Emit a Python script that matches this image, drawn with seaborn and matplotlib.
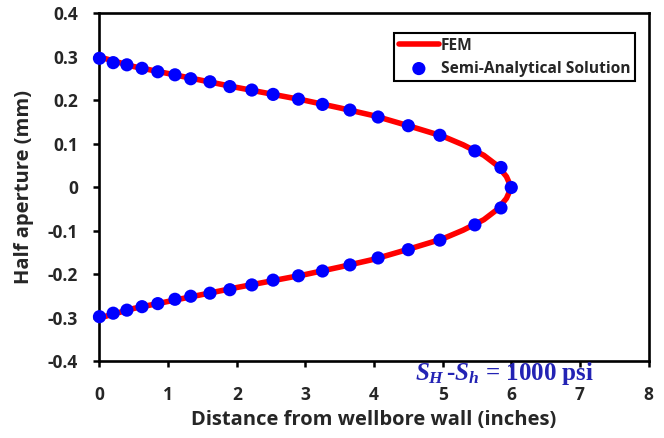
import matplotlib
matplotlib.use("Agg")
import matplotlib.pyplot as plt
import seaborn as sns
import pandas as pd

# Semi-analytical points (upper and lower crack faces)
sa_x_upper = [0.0, 0.2, 0.4, 0.62, 0.85, 1.1, 1.33, 1.61, 1.9, 2.22, 2.53, 2.9, 3.25, 3.65, 4.06, 4.5, 4.96, 5.47, 5.85, 6.0]
sa_y_upper = [0.297, 0.287, 0.282, 0.274, 0.266, 0.259, 0.250, 0.243, 0.232, 0.224, 0.214, 0.203, 0.191, 0.178, 0.162, 0.142, 0.120, 0.084, 0.046, 0.0]
sa_x_lower = [0.0, 0.2, 0.4, 0.62, 0.85, 1.1, 1.33, 1.61, 1.9, 2.22, 2.53, 2.9, 3.25, 3.65, 4.06, 4.5, 4.96, 5.47, 5.85]
sa_y_lower = [-0.297, -0.289, -0.282, -0.274, -0.267, -0.257, -0.250, -0.243, -0.235, -0.224, -0.213, -0.203, -0.192, -0.178, -0.162, -0.143, -0.121, -0.086, -0.047]

# FEM profile (traced from top face around the tip to bottom face)
fem_x = [0.0, 0.5, 1.0, 1.5, 2.0, 2.5, 3.0, 3.5, 4.0, 4.5, 5.0, 5.3, 5.6, 5.8, 5.93, 6.0,
         5.93, 5.8, 5.6, 5.3, 5.0, 4.5, 4.0, 3.5, 3.0, 2.5, 2.0, 1.5, 1.0, 0.5, 0.0]
fem_y = [0.300, 0.278, 0.262, 0.246, 0.230, 0.215, 0.200, 0.183, 0.165, 0.142, 0.118, 0.098, 0.074, 0.050, 0.025, 0.0,
         -0.025, -0.050, -0.074, -0.098, -0.118, -0.142, -0.165, -0.183, -0.200, -0.215, -0.230, -0.246, -0.262, -0.278, -0.300]

x_ticks = [0, 1, 2, 3, 4, 5, 6, 7, 8]
y_ticks = [-0.4, -0.3, -0.2, -0.1, 0, 0.1, 0.2, 0.3, 0.4]
y_tick_labels = ["-0.4", "-0.3", "-0.2", "-0.1", "0", "0.1", "0.2", "0.3", "0.4"]

sns.set_style("white")
plt.rcParams['font.family'] = ['Open Sans', 'DejaVu Sans']
plt.rcParams['mathtext.fontset'] = 'custom'
plt.rcParams['mathtext.it'] = 'Liberation Serif:italic:bold'
plt.rcParams['mathtext.rm'] = 'Liberation Serif:bold'
plt.rcParams['mathtext.bf'] = 'Liberation Serif:bold'

fig = plt.figure(figsize=(6.64, 4.38), dpi=100)
ax = fig.add_axes([0.1498, 0.1747, 0.8269, 0.7945])

fem_df = pd.DataFrame({"x": fem_x, "y": fem_y})
sa_df = pd.DataFrame({"x": sa_x_upper + sa_x_lower, "y": sa_y_upper + sa_y_lower})

sns.lineplot(data=fem_df, x="x", y="y", sort=False, estimator=None, ax=ax,
             color="#ff0000", linewidth=4.0, label="FEM", zorder=2)
sns.scatterplot(data=sa_df, x="x", y="y", ax=ax, color="#0000ff", s=90,
                edgecolor="none", label="Semi-Analytical Solution", zorder=3,
                clip_on=False)

ax.set_xlim(0, 8)
ax.set_ylim(-0.4, 0.4)
ax.set_xticks(x_ticks)
ax.set_yticks(y_ticks)
ax.set_yticklabels(y_tick_labels)
for lab in ax.get_xticklabels() + ax.get_yticklabels():
    lab.set_fontweight("bold")
    lab.set_fontsize(12.5)
ax.tick_params(axis="y", which="major", direction="out", length=4.5, width=1.8,
               color="black", left=True, right=False, pad=11)
ax.tick_params(axis="x", which="major", direction="out", length=4, width=1.8,
               color="black", bottom=True, top=False, pad=14)
for sp in ax.spines.values():
    sp.set_color("black")
    sp.set_linewidth(1.9)

ax.set_xlabel("Distance from wellbore wall (inches)", fontsize=14.5, fontweight="bold", labelpad=4)
ax.set_ylabel("Half aperture (mm)", fontsize=14.5, fontweight="bold", labelpad=10)

leg = ax.legend(loc="upper right", bbox_to_anchor=(0.975, 0.944), frameon=True,
                fancybox=False, edgecolor="black", framealpha=1,
                prop={"weight": "bold", "size": 11.2}, handlelength=2.6,
                borderpad=0.3, labelspacing=0.45, handletextpad=0.1,
                borderaxespad=0)
leg.get_frame().set_linewidth(1.5)

ax.text(4.6, -0.443, r"$S_H\,$-$S_h$ = 1000 psi", color="#2323b4", fontsize=18,
        family="Liberation Serif", fontweight="bold", clip_on=False, zorder=5)

fig.savefig("out.png", dpi=100)
